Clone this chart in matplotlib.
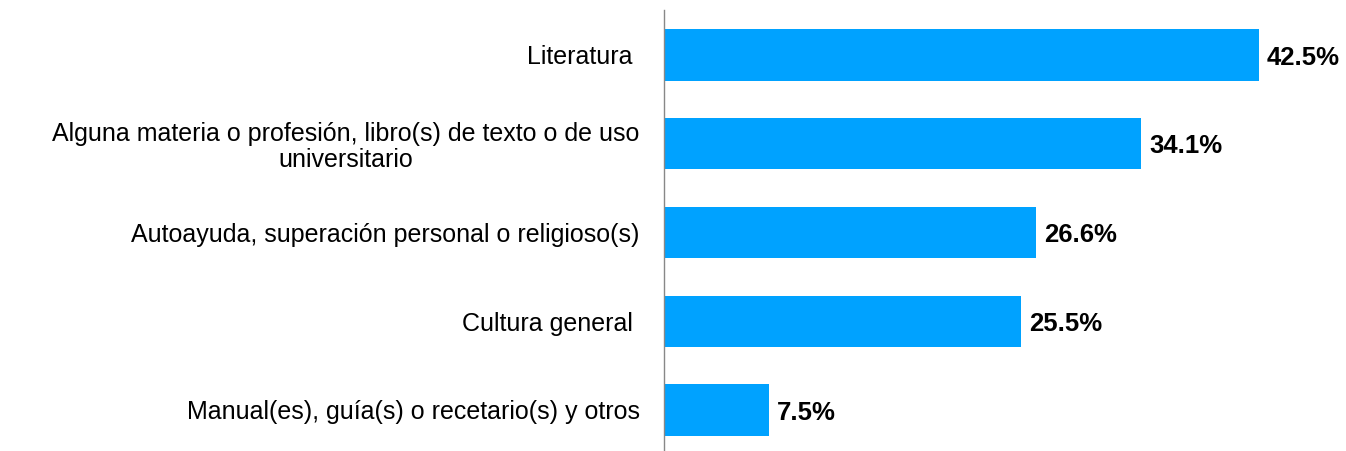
import matplotlib
matplotlib.use("Agg")
import matplotlib.pyplot as plt

categories = [
    "Literatura ",
    "Alguna materia o profesión, libro(s) de texto o de uso\nuniversitario",
    "Autoayuda, superación personal o religioso(s)",
    "Cultura general ",
    "Manual(es), guía(s) o recetario(s) y otros",
]
values = [42.5, 34.1, 26.6, 25.5, 7.5]
value_labels = ["42.5%", "34.1%", "26.6%", "25.5%", "7.5%"]

plt.rcParams['font.family'] = ['Liberation Sans', 'DejaVu Sans']

W, H = 1346, 451
fig = plt.figure(figsize=(W / 100, H / 100), dpi=100)
left_px, right_px, top_px, bottom_px = 664, 1346, 10, 451
ax = fig.add_axes([left_px / W, 1 - bottom_px / H, (right_px - left_px) / W, (bottom_px - top_px) / H])

pos = list(range(len(categories)))
ax.barh(pos, values, height=0.575, color="#00A2FF", zorder=2)
for p, v, lab in zip(pos, values, value_labels):
    ax.text(v + 0.55, p + 0.03, lab, va="center", ha="left", fontsize=18.5,
            fontweight="bold", color="black")

ax.set_xlim(0, (right_px - left_px) / 14.0)
ax.set_ylim(4 + (451 - 410) / 88.75, -(55 - 10) / 88.75)
ax.set_yticks(pos)
ax.set_yticklabels(categories, fontsize=18, multialignment="center", linespacing=1.1)
ax.tick_params(axis="y", length=0, pad=17.5)
ax.set_xticks([])
for s in ["top", "right", "bottom"]:
    ax.spines[s].set_visible(False)
ax.spines["left"].set_color("#888888")
ax.spines["left"].set_linewidth(1)

fig.savefig("out.png", dpi=100)
